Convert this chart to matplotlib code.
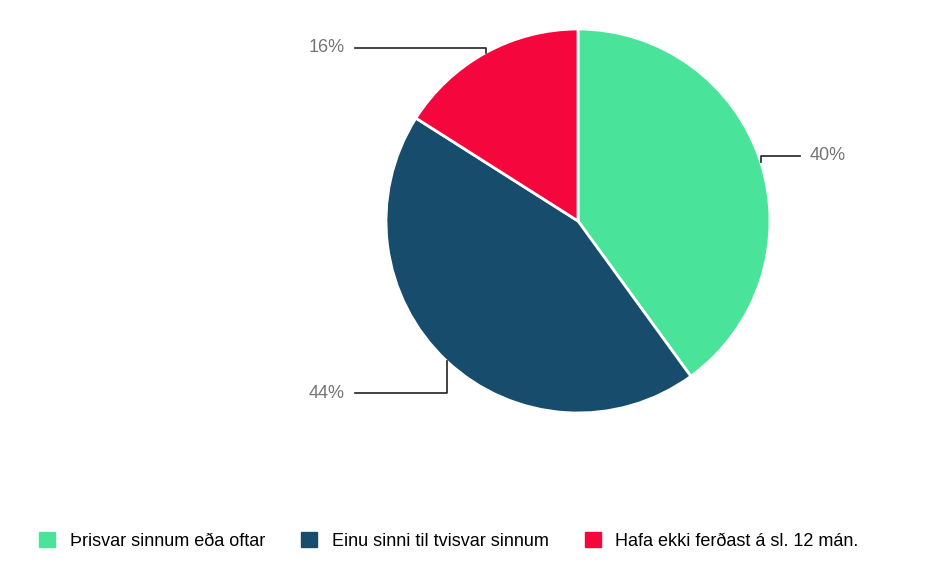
import matplotlib
matplotlib.use("Agg")
import matplotlib.pyplot as plt
import numpy as np
from matplotlib.patches import Patch

labels = ["Þrisvar sinnum eða oftar", "Einu sinni til tvisvar sinnum", "Hafa ekki ferðast á sl. 12 mán."]
values = [40, 44, 16]
colors = ["#4ae39a", "#174c6c", "#f5073e"]

W, H = 945, 579
fig = plt.figure(figsize=(W/100, H/100), dpi=100)
ax = fig.add_axes([0, 0, 1, 1])
ax.set_xlim(0, W); ax.set_ylim(0, H); ax.set_aspect("equal"); ax.axis("off")

cx, cy, r = 578, H-221, 192
wedges, _ = ax.pie(values, colors=colors, startangle=90, counterclock=False,
                   center=(cx, cy), radius=r, frame=True,
                   wedgeprops=dict(edgecolor="white", linewidth=2))
ax.set_xlim(0, W); ax.set_ylim(0, H); ax.axis("off")

# label layout: (label y in image px, end x, text x, ha)
layout = [(156, 800, 810, "left"), (393, 355, 345, "right"), (48, 355, 345, "right")]
for w, v, (ly, ex, tx, ha) in zip(wedges, values, layout):
    ang = np.deg2rad((w.theta1 + w.theta2) / 2)
    px, py = cx + r*np.cos(ang), cy + r*np.sin(ang)
    lyd = H - ly
    ax.plot([px, px, ex], [py, lyd, lyd], color="#222222", lw=1.2)
    ax.text(tx, lyd, f"{v}%", ha=ha, va="center", fontsize=13, color="#757575",
            family="Liberation Sans")

handles = [Patch(facecolor=c, edgecolor=c) for c in colors]
fig.legend(handles, labels, loc="center", bbox_to_anchor=(0.475, 1-541/H), ncol=3,
           frameon=False, prop=dict(family="Liberation Sans", size=13),
           handlelength=0.9, handleheight=0.9, columnspacing=2.0, handletextpad=0.8)

fig.savefig("out.png", dpi=100)
